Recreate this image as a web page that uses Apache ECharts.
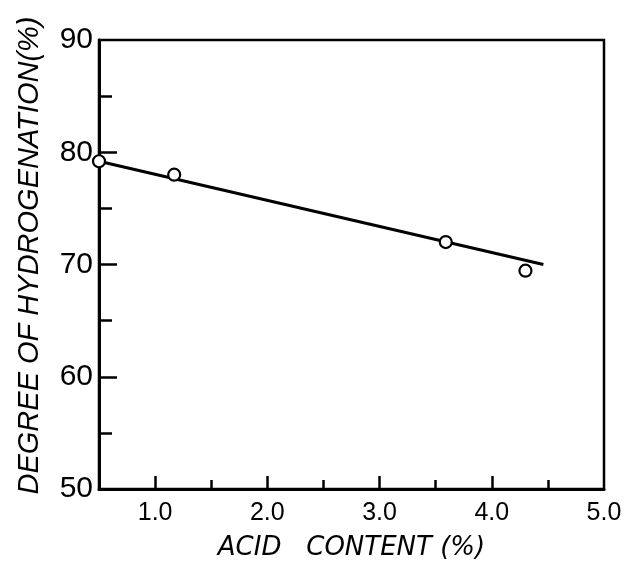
<!DOCTYPE html>
<html>
<head>
<meta charset="utf-8">
<script src="https://cdn.jsdelivr.net/npm/echarts@6/dist/echarts.min.js"></script>
<style>html,body{margin:0;padding:0;background:#fff}#c{width:627px;height:566px}</style>
</head>
<body>
<div id="c"></div>
<script>
// Data
const xLabels = [1, 2, 3, 4, 5];
const xMajorTicks = [1, 2, 3, 4];
const xMinorTicks = [1.5, 2.5, 3.5, 4.5];
const yLabels = [50, 60, 70, 80, 90];
const yMajorTicks = [60, 70, 80];
const yMinorTicks = [55, 65, 75, 85];
const acidContent = [0.5, 1.17, 3.59, 4.30];
const hydrogenation = [79.2, 78.0, 72.0, 69.45];
const fitX = [0.5, 4.46];
const fitY = [79.2, 70.0];

const chart = echarts.init(document.getElementById('c'), null, {renderer: 'canvas'});
const font = '"Liberation Sans", Arial, sans-serif';
chart.setOption({
  animation: false,
  backgroundColor: '#fff',
  grid: {left: 99, right: 23, top: 40, bottom: 75.5, show: true, borderColor: '#000', borderWidth: 2.5, backgroundColor: 'transparent'},
  xAxis: [{
    type: 'value', min: 0.5, max: 5, position: 'bottom',
    name: 'ACID   CONTENT (%)', nameLocation: 'middle', nameGap: 46,
    nameTextStyle: {fontFamily: '"DejaVu Sans", sans-serif', fontStyle: 'italic', fontSize: 26, color: '#000'},
    axisLine: {show: true, lineStyle: {color: '#000', width: 3}},
    axisTick: {show: true, inside: true, length: 13, lineStyle: {color: '#000', width: 2.5}, customValues: xMajorTicks},
    axisLabel: {show: true, customValues: xLabels, formatter: v => v.toFixed(1), fontFamily: font, fontSize: 25, color: '#000', margin: 12},
    splitLine: {show: false}
  }, {
    type: 'value', min: 0.5, max: 5, position: 'bottom',
    axisLine: {show: false},
    axisTick: {show: true, inside: true, length: 9, lineStyle: {color: '#000', width: 2.5}, customValues: xMinorTicks},
    axisLabel: {show: false},
    splitLine: {show: false}
  }],
  yAxis: [{
    type: 'value', min: 50, max: 90, position: 'left',
    name: 'DEGREE OF HYDROGENATION(%)', nameLocation: 'middle', nameGap: 55,
    nameTextStyle: {fontFamily: font, fontStyle: 'italic', fontSize: 29, color: '#000', padding: [0, 0, 0, 18]},
    axisLine: {show: true, lineStyle: {color: '#000', width: 3}},
    axisTick: {show: true, inside: true, length: 18, lineStyle: {color: '#000', width: 2.5}, customValues: yMajorTicks},
    axisLabel: {show: true, customValues: yLabels, fontFamily: font, fontSize: 30, color: '#000', margin: 6},
    splitLine: {show: false}
  }, {
    type: 'value', min: 50, max: 90, position: 'left',
    axisLine: {show: false},
    axisTick: {show: true, inside: true, length: 13, lineStyle: {color: '#000', width: 2.5}, customValues: yMinorTicks},
    axisLabel: {show: false},
    splitLine: {show: false}
  }],
  series: [{
    type: 'line',
    data: fitX.map((x, i) => [x, fitY[i]]),
    showSymbol: false, symbol: 'none',
    lineStyle: {color: '#000', width: 3},
    z: 2
  }, {
    type: 'scatter',
    data: acidContent.map((x, i) => [x, hydrogenation[i]]),
    symbol: 'circle', symbolSize: 12, clip: false,
    itemStyle: {color: '#fff', borderColor: '#000', borderWidth: 2.2, opacity: 1},
    z: 3
  }]
});
</script>
</body>
</html>
